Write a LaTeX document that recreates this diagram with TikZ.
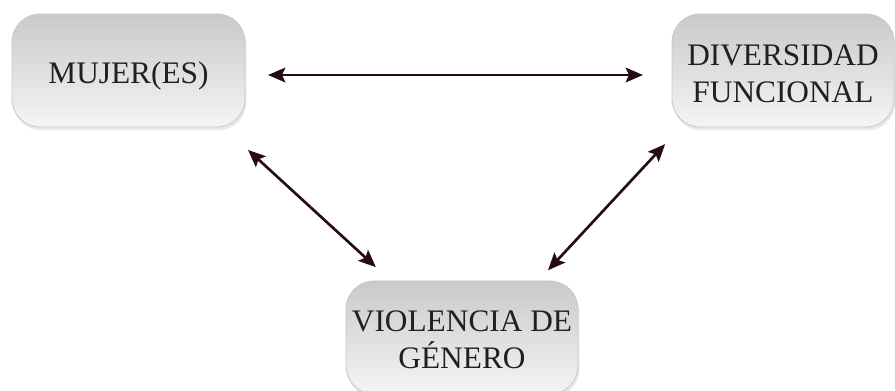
\documentclass[tikz,border=0pt]{standalone}
\usepackage{fontspec}
\setmainfont{Liberation Serif}
\usepackage{tikz}
\usetikzlibrary{calc}
\usetikzlibrary{shadows}
\usetikzlibrary{arrows.meta}

\definecolor{flechacolor}{RGB}{38,12,16}
\definecolor{textocolor}{RGB}{35,31,32}

\begin{document}
\begin{tikzpicture}[x=0.75pt, y=-0.75pt,
    caja/.style={draw=black!22, line width=0.6pt, rounded corners=21pt,
      top color=black!21, bottom color=black!4, minimum height=84.75pt,
      inner sep=0pt, outer sep=0pt,
      drop shadow={opacity=0.18, shadow xshift=1pt, shadow yshift=-2.5pt}},
    texto/.style={text=textocolor, align=center, inner sep=0pt,
      font=\fontsize{23.5}{27.75}\selectfont},
    flecha/.style={{Stealth[length=13pt, width=11pt, inset=2.5pt]}-{Stealth[length=13pt, width=11pt, inset=2.5pt]},
      draw=flechacolor, line width=2pt}]
      \useasboundingbox (0, 0) rectangle (895, 391);

      \node[caja, minimum width=174.75pt] (1) at (128.5, 70.5){};
      \node[caja, minimum width=166.5pt] (2) at (783, 70.5){};
      \node[caja, minimum width=174pt] (3) at (462, 337.5){};

      \node[texto] (4) at (128.5, 76){MUJER(ES)};
      \node[texto] (5) at (783, 74){DIVERSIDAD\\FUNCIONAL};
      \node[texto] (6) at (462, 340){VIOLENCIA DE\\GÉNERO};

      \draw[flecha, shorten <=17.25pt, shorten >=21.75pt] ($(1.east)+(0, 4.5)$) to ($(2.west)+(0, 4.5)$);
      \draw[flecha, shorten <=25.5pt, shorten >=15.4pt] ($(1.south)+(94.5, 0)$) to ($(3.north)+(-71, 0)$);
      \draw[flecha, shorten <=11pt, shorten >=17.5pt] ($(3.north)+(76, 0)$) to ($(2.south)+(-102, 0)$);

    \end{tikzpicture}
\end{document}
